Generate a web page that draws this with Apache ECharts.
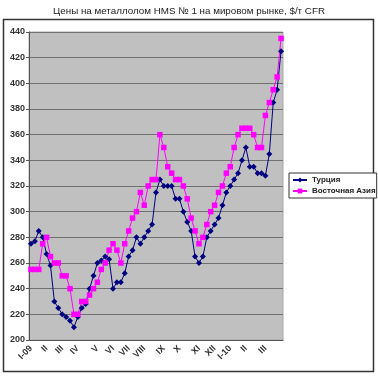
<!DOCTYPE html>
<html>
<head>
<meta charset="utf-8">
<script src="https://cdn.jsdelivr.net/npm/echarts@6/dist/echarts.min.js"></script>
<style>
  html, body { margin: 0; padding: 0; background: #fff; }
  #chart { width: 378px; height: 376px; }
</style>
</head>
<body>
<div id="chart"></div>
<script>
// недельные цены, $/т CFR (янв 2009 - мар 2010)
const turkey = [
  275, 277, 285, 280, 267, 258, 230, 225, 220, 218, 215, 210, 218, 225, 228, 240,
  250, 260, 262, 265, 263, 240, 245, 245, 252, 265, 270, 280, 275, 280, 285, 290,
  315, 325, 320, 320, 320, 310, 310, 300, 292, 285, 265, 260, 265, 280, 285, 290,
  295, 305, 315, 320, 325, 330, 340, 350, 335, 335, 330, 330, 328, 345, 385, 395, 425
]
const eastAsia = [
  255, 255, 255, 275, 280, 265, 260, 260, 250, 250, 240, 220, 220, 230, 230, 235,
  240, 245, 255, 260, 270, 275, 270, 260, 275, 285, 295, 300, 315, 305, 320, 325,
  325, 360, 350, 335, 330, 325, 325, 320, 310, 295, 285, 275, 280, 290, 300, 305,
  315, 320, 330, 335, 350, 360, 365, 365, 365, 360, 350, 350, 375, 385, 395, 405, 435
]
// подписи месяцев и номер недели, где они стоят
const monthLabels = ['I-09', 'II', 'III', 'IV', 'V', 'VI', 'VII', 'VIII', 'IX', 'X', 'XI', 'XII', 'I-10', 'II', 'III']
const monthIndex = [0, 4, 8, 12, 17, 21, 25, 29, 34, 38, 43, 47, 51, 55, 60]
const yTicks = { min: 200, max: 440, step: 20 }

const categories = turkey.map((v, i) => {
  const k = monthIndex.indexOf(i)
  return k >= 0 ? monthLabels[k] : ''
})

const chart = echarts.init(document.getElementById('chart'))
const labelFont = { fontFamily: 'Liberation Sans', fontWeight: 'bold', fontSize: 9, color: '#333' }

const option = {
  animation: false,
  backgroundColor: '#fff',
  title: {
    text: 'Цены на металлолом HMS № 1 на мировом рынке, $/т CFR',
    left: 'center',
    top: 1,
    textStyle: { fontFamily: 'Liberation Sans', fontWeight: 'normal', fontSize: 9.8, color: '#222' }
  },
  graphic: [{
    type: 'rect',
    shape: { x: 3.5, y: 19.5, width: 370, height: 352 },
    style: { fill: null, stroke: '#333', lineWidth: 1.5 },
    z: -1
  }],
  legend: {
    orient: 'vertical',
    left: 289,
    top: 173,
    itemGap: 3,
    itemWidth: 14,
    itemHeight: 6,
    padding: [3, 1, 3, 3],
    borderColor: '#333',
    borderWidth: 1,
    backgroundColor: '#fff',
    textStyle: {
      fontFamily: 'Liberation Sans', fontWeight: 'bold', fontSize: 8, color: '#222',
      width: 88, overflow: 'truncate', ellipsis: ''
    },
    data: ['Турция', 'Восточная Азия']
  },
  grid: {
    left: 29, right: 95, top: 32, bottom: 36,
    show: true,
    backgroundColor: '#c0c0c0',
    borderColor: '#a8a8a8',
    borderWidth: 1
  },
  xAxis: {
    type: 'category',
    data: categories,
    boundaryGap: true,
    axisLine: { lineStyle: { color: '#555', width: 1 } },
    axisTick: { interval: 0, length: 3, lineStyle: { color: '#555' } },
    axisLabel: Object.assign({ interval: 0, rotate: 45, margin: 7 }, labelFont)
  },
  yAxis: {
    type: 'value',
    min: yTicks.min,
    max: yTicks.max,
    interval: yTicks.step,
    axisLine: { show: true, lineStyle: { color: '#555', width: 1 } },
    axisTick: { show: true, length: 3, lineStyle: { color: '#555' } },
    axisLabel: Object.assign({ margin: 4 }, labelFont),
    splitLine: { lineStyle: { color: '#707070', width: 1 } }
  },
  series: [
    {
      name: 'Турция',
      type: 'line',
      data: turkey,
      symbol: 'diamond',
      symbolSize: 6,
      color: '#000080',
      lineStyle: { width: 1, color: '#000080' },
      itemStyle: { color: '#000080' }
    },
    {
      name: 'Восточная Азия',
      type: 'line',
      data: eastAsia,
      symbol: 'rect',
      symbolSize: 5.5,
      color: '#ff00ff',
      lineStyle: { width: 1, color: '#ff00ff' },
      itemStyle: { color: '#ff00ff' }
    }
  ]
}

chart.setOption(option)
window.addEventListener('resize', () => {
  chart.resize()
})
</script>
</body>
</html>
